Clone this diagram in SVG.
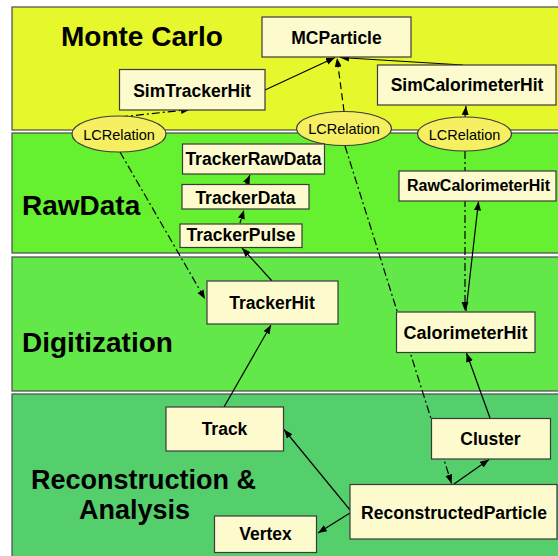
<svg xmlns="http://www.w3.org/2000/svg" width="558" height="556" viewBox="0 0 558 556">
<style>
.band{stroke:#4a4a4a;stroke-width:1.2}
.sec{font-family:"Liberation Sans",Arial,sans-serif;font-weight:bold;font-size:28px;fill:#000}
.box{fill:#fdfbcd;stroke:#3a3a3a;stroke-width:1.2}
.lbl{font-family:"Liberation Sans",Arial,sans-serif;font-weight:bold;font-size:17.5px;fill:#000;text-anchor:middle}
.ell{fill:#f6ef62;stroke:#3a3a3a;stroke-width:1.2}
.rel{font-family:"Liberation Sans",Arial,sans-serif;font-size:14.5px;fill:#000;text-anchor:middle}
.c{fill:none;stroke:#000;stroke-width:1.2;marker-end:url(#ah)}
.dash{stroke-dasharray:7,4}
.dd{stroke-dasharray:8,3,2,3}
.sd{stroke-dasharray:4,3}
</style>
<defs>
<marker id="ah" markerUnits="userSpaceOnUse" markerWidth="10" markerHeight="8" refX="9" refY="3.5" orient="auto">
<path d="M0,0 L9,3.5 L0,7 z" fill="#000"/>
</marker>
</defs>
<rect width="558" height="556" fill="#fff"/>
<g id="bands">
<rect class="band" x="12" y="7" width="560" height="123" fill="#e6f82b"/>
<rect class="band" x="12" y="133" width="560" height="120" fill="#66f130"/>
<rect class="band" x="12" y="257" width="560" height="134" fill="#63e84a"/>
<rect class="band" x="12" y="394" width="560" height="170" fill="#55cf6b"/>
</g>
<g id="section-labels">
<text class="sec" x="61" y="46">Monte Carlo</text>
<text class="sec" x="22" y="215">RawData</text>
<text class="sec" x="22" y="352">Digitization</text>
<text class="sec" x="31" y="489" style="font-size:27px">Reconstruction &amp;</text>
<text class="sec" x="79" y="519" style="font-size:27px">Analysis</text>
</g>
<g id="connectors">
<line class="c" x1="265" y1="90" x2="335" y2="57.5"/>
<line class="c" x1="463" y1="65" x2="340" y2="57.5"/>
<line class="c dash" x1="344" y1="111" x2="337" y2="58"/>
<line class="c dd" x1="120" y1="117" x2="190" y2="109.5"/>
<line class="c dd" x1="120" y1="152" x2="205" y2="299"/>
<line class="c sd" x1="465" y1="117" x2="466" y2="106"/>
<line class="c dd" x1="465" y1="151" x2="465" y2="311"/>
<line class="c" x1="466" y1="311" x2="478.5" y2="201.5"/>
<line class="c dd" x1="345" y1="146" x2="451.5" y2="483.5"/>
<line class="c" x1="490" y1="418" x2="466.5" y2="353"/>
<line class="c" x1="454" y1="484" x2="489" y2="459.5"/>
<line class="c" x1="350" y1="510" x2="284" y2="429.5"/>
<line class="c" x1="350" y1="513" x2="318" y2="533"/>
<line class="c" x1="224" y1="407" x2="271" y2="325"/>
<line class="c" x1="272" y1="281" x2="242" y2="248"/>
<line class="c sd" x1="240" y1="223" x2="244" y2="210"/>
<line class="c sd" x1="246" y1="184" x2="250" y2="175"/>
</g>
<g id="MCParticle"><rect class="box" x="262" y="17" width="149" height="40"/><text class="lbl" x="336.5" y="44">MCParticle</text></g>
<g id="SimTrackerHit"><rect class="box" x="119.5" y="69.5" width="145.5" height="40.5"/><text class="lbl" x="192" y="96.5">SimTrackerHit</text></g>
<g id="SimCalorimeterHit"><rect class="box" x="377.5" y="65" width="178.5" height="40"/><text class="lbl" x="467" y="91">SimCalorimeterHit</text></g>
<g id="LCRelation1"><ellipse class="ell" cx="119" cy="134" rx="47" ry="18"/><text class="rel" x="119" y="140">LCRelation</text></g>
<g id="LCRelation2"><ellipse class="ell" cx="344" cy="128.5" rx="47.5" ry="17"/><text class="rel" x="344" y="134">LCRelation</text></g>
<g id="LCRelation3"><ellipse class="ell" cx="464.5" cy="134" rx="47" ry="17"/><text class="rel" x="464.5" y="139.5">LCRelation</text></g>
<g id="TrackerRawData"><rect class="box" x="182.5" y="144" width="142" height="30"/><text class="lbl" x="253.5" y="165">TrackerRawData</text></g>
<g id="TrackerData"><rect class="box" x="182" y="184.5" width="127" height="24.5"/><text class="lbl" x="245.5" y="203.5">TrackerData</text></g>
<g id="TrackerPulse"><rect class="box" x="180" y="224" width="122" height="23.5"/><text class="lbl" x="241" y="241">TrackerPulse</text></g>
<g id="TrackerHit"><rect class="box" x="207" y="281" width="131" height="43"/><text class="lbl" x="272" y="308.5">TrackerHit</text></g>
<g id="RawCalorimeterHit"><rect class="box" x="399" y="171" width="157" height="30"/><text class="lbl" x="478.5" y="191" style="font-size:16px">RawCalorimeterHit</text></g>
<g id="CalorimeterHit"><rect class="box" x="396.5" y="312" width="138.5" height="40.5"/><text class="lbl" x="465.5" y="338.5" style="font-size:18px">CalorimeterHit</text></g>
<g id="Track"><rect class="box" x="166" y="407" width="117.5" height="44"/><text class="lbl" x="224.5" y="435">Track</text></g>
<g id="Cluster"><rect class="box" x="431.5" y="418.5" width="119" height="40.5"/><text class="lbl" x="490.5" y="445">Cluster</text></g>
<g id="ReconstructedParticle"><rect class="box" x="350" y="484.5" width="207" height="54.5"/><text class="lbl" x="454" y="518.5">ReconstructedParticle</text></g>
<g id="Vertex"><rect class="box" x="214.5" y="516" width="102" height="36.5"/><text class="lbl" x="265.5" y="540">Vertex</text></g>
</svg>
